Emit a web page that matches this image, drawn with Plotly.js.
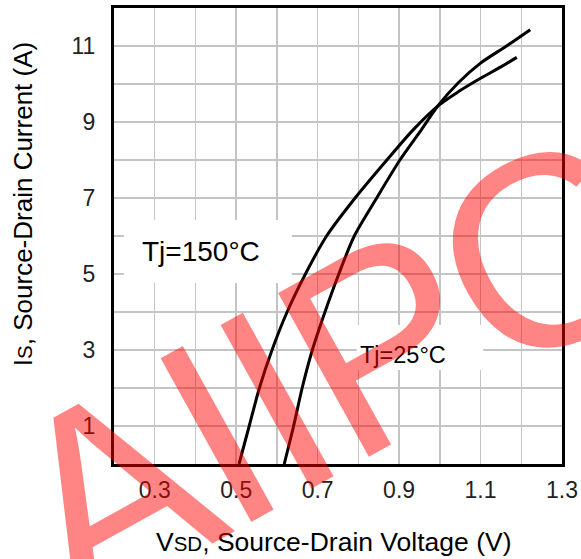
<!DOCTYPE html>
<html>
<head>
<meta charset="utf-8">
<script src="https://cdn.plot.ly/plotly-3.0.1.min.js"></script>
<style>
html,body{margin:0;padding:0;background:#fff;}
#chart{width:581px;height:559px;}
.annotation-text[data-unformatted="AIIPC"]{letter-spacing:-7px;}
</style>
</head>
<body>
<div id="chart"></div>
<script>
// Tj = 150°C curve (VSD in V, IS in A)
var v150 = [0.507, 0.532, 0.557, 0.588, 0.625, 0.670, 0.722, 0.792, 0.870, 0.935, 0.995, 1.046, 1.100, 1.150, 1.189];
var i150 = [0, 1, 2, 3, 4, 5, 6, 7, 8, 8.8, 9.42, 9.8, 10.15, 10.45, 10.70];
// Tj = 25°C curve
var v25 = [0.618, 0.641, 0.662, 0.687, 0.718, 0.752, 0.790, 0.845, 0.902, 0.955, 0.995, 1.046, 1.100, 1.161, 1.222];
var i25 = [0, 1, 2, 3, 4, 5, 6, 7, 8, 8.8, 9.42, 10.04, 10.55, 10.98, 11.43];
// Ticks
var xTickVals = [0.3, 0.5, 0.7, 0.9, 1.1, 1.3];
var xTickText = ["0.3", "0.5", "0.7", "0.9", "1.1", "1.3"];
var yTickVals = [1, 3, 5, 7, 9, 11];
var yTickText = ["1", "3", "5", "7", "9", "11"];
var seriesNames = ["Tj=150°C", "Tj=25°C"];

var FONT = "Liberation Sans, Arial, sans-serif";

var traces = [
  {x: v150, y: i150, name: seriesNames[0], mode: "lines", line: {color: "#000", width: 3, shape: "spline", smoothing: 0.8}, hoverinfo: "x+y"},
  {x: v25, y: i25, name: seriesNames[1], mode: "lines", line: {color: "#000", width: 3, shape: "spline", smoothing: 0.8}, hoverinfo: "x+y"}
];

var gridColor = "#c4c4c4";
var layout = {
  width: 581, height: 559,
  margin: {l: 114, r: 19, t: 8, b: 95},
  paper_bgcolor: "#fff", plot_bgcolor: "#fff",
  showlegend: false,
  font: {family: FONT, color: "#000"},
  xaxis: {
    range: [0.2, 1.3], tickvals: xTickVals, ticktext: xTickText,
    showgrid: true, gridcolor: gridColor, gridwidth: 1.5,
    minor: {tick0: 0.2, dtick: 0.1, showgrid: true, gridcolor: gridColor, gridwidth: 1.5},
    showline: true, linecolor: "#000", linewidth: 3, mirror: true,
    ticks: "", zeroline: false, ticklabelstandoff: 3,
    tickfont: {family: FONT, size: 23, color: "#222"}
  },
  yaxis: {
    range: [0, 12], tickvals: yTickVals, ticktext: yTickText,
    showgrid: true, gridcolor: gridColor, gridwidth: 1.5,
    minor: {tick0: 0, dtick: 1, showgrid: true, gridcolor: gridColor, gridwidth: 1.5},
    showline: true, linecolor: "#000", linewidth: 3, mirror: true,
    ticks: "", zeroline: false, ticklabelstandoff: 11,
    tickfont: {family: FONT, size: 23, color: "#222"}
  },
  shapes: [
    {type: "rect", xref: "paper", yref: "paper", x0: 0.022, x1: 0.397, y0: 0.397, y1: 0.535, fillcolor: "#fff", line: {width: 0}, layer: "above"},
    {type: "rect", xref: "paper", yref: "paper", x0: 0.542, x1: 0.824, y0: 0.206, y1: 0.305, fillcolor: "#fff", line: {width: 0}, layer: "above"}
  ],
  annotations: [
    {text: seriesNames[0], xref: "paper", yref: "paper", x: 0.195, y: 0.466, xanchor: "center", yanchor: "middle", showarrow: false, font: {family: FONT, size: 28, color: "#000"}},
    {text: seriesNames[1], xref: "paper", yref: "paper", x: 0.645, y: 0.238, xanchor: "center", yanchor: "middle", showarrow: false, font: {family: FONT, size: 23.5, color: "#000"}},
    {text: "V<span style='font-size:20.5px'>SD</span>, Source-Drain Voltage (V)", xref: "paper", yref: "paper", x: 0.49, y: -0.172, xanchor: "center", yanchor: "middle", showarrow: false, font: {family: FONT, size: 26.5, color: "#000"}},
    {text: "I<span style='font-size:20.5px'>S</span>, Source-Drain Current (A)", xref: "paper", yref: "paper", x: -0.203, y: 0.57, xanchor: "center", yanchor: "middle", textangle: -90, showarrow: false, font: {family: FONT, size: 26, color: "#000"}},
    {text: "AIIPC", xref: "paper", yref: "paper", x: 0.4734, y: 0.1996, xanchor: "center", yanchor: "middle", textangle: -29, showarrow: false, font: {family: FONT, size: 272, color: "rgba(255,0,0,0.48)"}}
  ]
};

Plotly.newPlot("chart", traces, layout, {displayModeBar: false, staticPlot: true});
</script>
</body>
</html>
